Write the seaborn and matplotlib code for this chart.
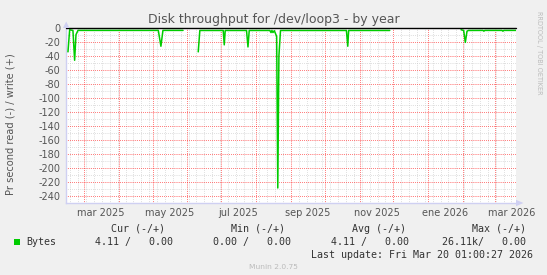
import matplotlib
matplotlib.use("Agg")
import matplotlib.pyplot as plt
import matplotlib.dates as mdates
import matplotlib.transforms as mtransforms
from matplotlib.patches import Rectangle, Polygon
import pandas as pd
import seaborn as sns

# ---------------- data ----------------
seg1_dates = ["2025-02-14 19:00", "2025-02-16 07:00", "2025-02-19 05:00", "2025-02-20 17:00",
              "2025-02-21 22:00", "2025-02-23 17:00", "2025-05-06 02:00", "2025-05-08 10:00",
              "2025-05-10 05:00", "2025-05-28 02:00"]
seg1_vals = [-34, -2.5, -3.5, -46, -9.5, -3.4, -3.4, -26, -3.4, -3.4]

seg2_dates = ["2025-06-10 14:00", "2025-06-12 00:00", "2025-07-02 19:00", "2025-07-03 17:00",
              "2025-07-04 14:00", "2025-07-23 12:00", "2025-07-24 19:00", "2025-07-25 22:00",
              "2025-08-13 05:00", "2025-08-14 07:00", "2025-08-15 02:00", "2025-08-16 00:00",
              "2025-08-17 05:00", "2025-08-19 07:00", "2025-08-20 07:00", "2025-08-21 07:00",
              "2025-08-22 17:00", "2025-10-20 07:00", "2025-10-21 12:00", "2025-10-22 07:00",
              "2025-11-27 19:00"]
seg2_vals = [-34, -3.5, -3.5, -24, -3.5, -3.5, -27, -3.5,
             -3.5, -6.5, -3.5, -6.5, -3.8, -12, -228, -40,
             -3.5, -3.5, -26, -3.5, -3.5]

seg3_dates = ["2026-01-30 05:00", "2026-02-01 12:00", "2026-02-03 00:00", "2026-02-04 12:00",
              "2026-02-05 17:00", "2026-02-18 17:00", "2026-02-19 12:00", "2026-02-20 07:00",
              "2026-03-07 14:00", "2026-03-08 10:00", "2026-03-09 05:00", "2026-03-20 00:00"]
seg3_vals = [-2.5, -3.5, -20.5, -4.5, -3.5, -3.4, -4.5, -3.4, -3.4, -4.5, -3.4, -3.4]

x_start = "2025-02-13 01:00"
x_end = "2026-03-20 01:00"
y_min, y_max = -249.4, 0

y_ticks = [0, -20, -40, -60, -80, -100, -120, -140, -160, -180, -200, -220, -240]
y_minor = [-10, -30, -50, -70, -90, -110, -130, -150, -170, -190, -210, -230]

month_label_pos = ["2025-03-16", "2025-05-16", "2025-07-16", "2025-09-16",
                   "2025-11-16", "2026-01-16", "2026-03-16"]
month_labels = ["mar 2025", "may 2025", "jul 2025", "sep 2025",
                "nov 2025", "ene 2026", "mar 2026"]

title = "Disk throughput for /dev/loop3 - by year"
ylabel = "Pr second read (-) / write (+)"
legend_name = "Bytes"
col_headers = ["Cur (-/+)", "Min (-/+)", "Avg (-/+)", "Max (-/+)"]
col_values = ["4.11 /   0.00", "0.00 /   0.00", "4.11 /   0.00", "26.11k/   0.00"]
last_update = "Last update: Fri Mar 20 01:00:27 2026"
munin_ver = "Munin 2.0.75"
side_text = "RRDTOOL / TOBI OETIKER"

# ---------------- build frame ----------------
frames = []
for i, (d, v) in enumerate([(seg1_dates, seg1_vals), (seg2_dates, seg2_vals), (seg3_dates, seg3_vals)]):
    frames.append(pd.DataFrame({"date": pd.to_datetime(d), "value": v, "segment": i}))
df = pd.concat(frames, ignore_index=True)

sns.set_style("white")
plt.rcParams["font.family"] = ["DejaVu Sans"]
plt.rcParams["axes.unicode_minus"] = False

W, H = 547, 275
fig = plt.figure(figsize=(W / 100, H / 100), dpi=100)
fig.patch.set_facecolor("#F0F0F0")

L, R, T, B = 66, 516, 28, 203
ax = fig.add_axes([L / W, 1 - B / H, (R - L) / W, (B - T) / H])
ax.set_facecolor("white")

sns.lineplot(data=df, x="date", y="value", units="segment", estimator=None,
             color="#00CC00", linewidth=1.1, ax=ax, zorder=5)

ax.set_xlim(pd.Timestamp(x_start), pd.Timestamp(x_end))
ax.set_ylim(y_min, y_max)

# grids
major_red = (1.0, 0.0, 0.0, 0.3)
minor_gray = "#c4c4c4"
dots = (0, (0.7, 1.6))
ax.xaxis.set_major_locator(mdates.MonthLocator())
ax.xaxis.set_minor_locator(mdates.WeekdayLocator(byweekday=mdates.MO))
ax.xaxis.set_major_formatter(plt.NullFormatter())
ax.set_yticks(y_ticks)
ax.set_yticks(y_minor, minor=True)
ax.set_yticklabels([str(t) for t in y_ticks])
ax.grid(which="minor", color=minor_gray, linestyle=dots, linewidth=0.6, zorder=0)
ax.grid(which="major", color=major_red, linestyle=dots, linewidth=0.6, zorder=1)

ax.tick_params(axis="x", which="major", direction="inout", length=4, width=0.6,
               color=major_red, labelbottom=False)
ax.tick_params(axis="x", which="minor", direction="inout", length=2.5, width=0.5,
               color="#bbbbbb")
ax.tick_params(axis="y", which="major", direction="inout", length=3, width=0.6,
               color=major_red, labelsize=7, labelcolor="#555555", pad=2.5)
ax.tick_params(axis="y", which="minor", direction="inout", length=2, width=0.5,
               color="#bbbbbb")

for s in ["top", "right"]:
    ax.spines[s].set_visible(False)
for s in ["left", "bottom"]:
    ax.spines[s].set_color("#cfd0f2")
    ax.spines[s].set_linewidth(1)

ax.set_xlabel("")
ax.set_ylabel("")

# zero line
ax.axhline(0, color="black", linewidth=1.0, zorder=6, clip_on=False)

# month labels
trans = mtransforms.blended_transform_factory(ax.transData, ax.transAxes)
for p, lab in zip(month_label_pos, month_labels):
    ax.text(pd.Timestamp(p), -(213.5 - B) / (B - T), lab, transform=trans,
            ha="center", va="center", fontsize=7, color="#555555")

# arrows
def px(x, y):
    return (x / W, 1 - y / H)

fig.patches.append(Polygon([px(63, 28), px(69.5, 28), px(66.2, 21.5)], closed=True,
                           transform=fig.transFigure, facecolor="#cfd0f2", edgecolor="none"))
fig.patches.append(Polygon([px(516, 199.8), px(516, 206.2), px(523.5, 203)], closed=True,
                           transform=fig.transFigure, facecolor="#cfd0f2", edgecolor="none"))

# texts
fig.text(273.5 / W, 1 - 19 / H, title, ha="center", va="center", fontsize=9, color="#555555")
fig.text(10.7 / W, 1 - 124 / H, ylabel, ha="center", va="center", rotation=90,
         fontsize=7.1, color="#555555")
fig.text(538.5 / W, 1 - 53 / H, side_text, ha="center", va="center", rotation=270,
         fontsize=4.7, color="#bbbbbb")

mono = "DejaVu Sans Mono"
fig.patches.append(Rectangle(px(13.5, 245), 6 / W, 6 / H, transform=fig.transFigure,
                             facecolor="#00CC00", edgecolor="none"))
fig.text(26 / W, 1 - 242 / H, legend_name, ha="left", va="center", family=mono,
         fontsize=7.2, color="#333333")
for cx, h in zip([137.8, 258, 378.6, 499], col_headers):
    fig.text(cx / W, 1 - 228.6 / H, h, ha="center", va="center", family=mono,
             fontsize=7.2, color="#333333")
for lx, v in zip([95, 213, 331, 442], col_values):
    fig.text(lx / W, 1 - 242 / H, v, ha="left", va="center", family=mono,
             fontsize=7.2, color="#333333")
fig.text(533 / W, 1 - 254.5 / H, last_update, ha="right", va="center", family=mono,
         fontsize=7.2, color="#333333")
fig.text(273 / W, 1 - 267 / H, munin_ver, ha="center", va="center", fontsize=5.4,
         color="#bbbbbb")

fig.savefig("out.png", dpi=100, facecolor=fig.get_facecolor())
